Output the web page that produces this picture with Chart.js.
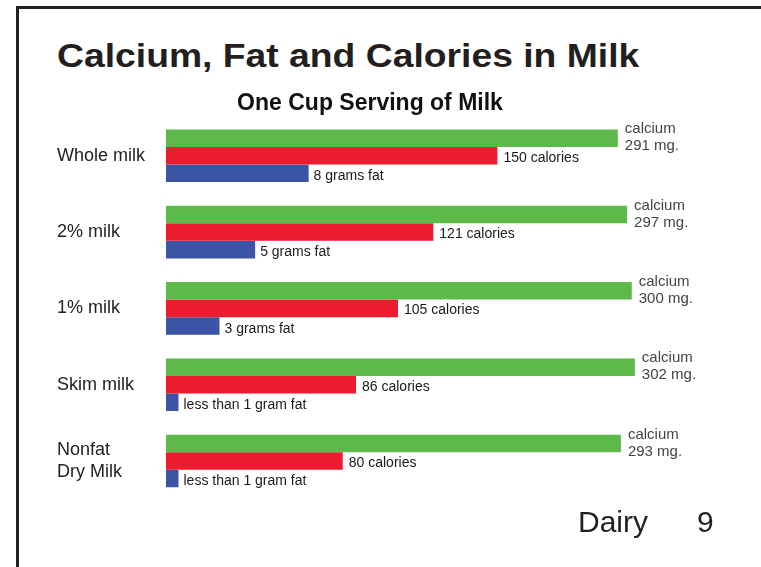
<!DOCTYPE html>
<html>
<head>
<meta charset="utf-8">
<script src="https://cdn.jsdelivr.net/npm/chart.js@4.4.1/dist/chart.umd.min.js"></script>
<style>
    html, body { margin: 0; padding: 0; background: #fff; }
    body { width: 761px; height: 567px; position: relative; overflow: hidden; font-family: "Liberation Sans", Arial, sans-serif; }
    .frame-top { position: absolute; left: 16px; top: 6px; width: 745px; height: 3px; background: #222; }
    .frame-left { position: absolute; left: 16px; top: 6px; width: 3px; height: 561px; background: #222; }
    .slide-title { position: absolute; left: 57px; top: 39px; font-size: 33px; line-height: 1; font-weight: bold; color: #231f20; white-space: nowrap; transform: scaleX(1.13); transform-origin: left top; }
    .footer { position: absolute; top: 507px; font-size: 30px; line-height: 1; color: #231f20; }
    #chart-box { position: absolute; left: 20px; top: 60px; width: 700px; height: 453px; }
</style>
</head>
<body>
<div class="frame-top"></div>
<div class="frame-left"></div>
<div class="slide-title">Calcium, Fat and Calories in Milk</div>
<div id="chart-box"><canvas id="milkChart"></canvas></div>
<div class="footer" style="left:578px">Dairy</div>
<div class="footer" style="left:697px">9</div>

<script>
// --- DADOS ---
const categories = ['Whole milk', '2% milk', '1% milk', 'Skim milk', ['Nonfat', 'Dry Milk']];
const calcium = [291, 297, 300, 302, 293];          // mg
const calories = [150, 121, 105, 86, 80];
const fat = [8, 5, 3, 0.7, 0.7];                    // gramas ("less than 1" ~ 0.7)
const fatLabels = ['8 grams fat', '5 grams fat', '3 grams fat', 'less than 1 gram fat', 'less than 1 gram fat'];

const labelFont = '"Liberation Sans", Arial, sans-serif';

// escreve os textos no fim de cada barra
const barLabels = {
    id: 'barLabels',
    afterDatasetsDraw(chart) {
        const ctx = chart.ctx;
        ctx.save();
        ctx.textAlign = 'left';
        ctx.textBaseline = 'middle';

        chart.getDatasetMeta(0).data.forEach((bar, i) => {
            ctx.font = '15px ' + labelFont;
            ctx.fillStyle = '#444';
            ctx.fillText('calcium', bar.x + 7, bar.y - 9);
            ctx.fillText(calcium[i] + ' mg.', bar.x + 7, bar.y + 8);
        });

        chart.getDatasetMeta(1).data.forEach((bar, i) => {
            ctx.font = '14px ' + labelFont;
            ctx.fillStyle = '#1a1a1a';
            ctx.fillText(calories[i] + ' calories', bar.x + 6, bar.y + 2);
        });

        chart.getDatasetMeta(2).data.forEach((bar, i) => {
            ctx.font = '14px ' + labelFont;
            ctx.fillStyle = '#1a1a1a';
            ctx.fillText(fatLabels[i], bar.x + 5, bar.y + 3);
        });
        ctx.restore();
    }
};

new Chart(document.getElementById('milkChart'), {
    type: 'bar',
    data: {
        labels: categories,
        datasets: [
            { label: 'Calcium', data: calcium, xAxisID: 'xCal', backgroundColor: '#5cb94a' },
            { label: 'Calories', data: calories, xAxisID: 'xKcal', backgroundColor: '#ed1c2f' },
            { label: 'Fat', data: fat, xAxisID: 'xFat', backgroundColor: '#3c54a5' }
        ]
    },
    options: {
        indexAxis: 'y',
        responsive: true,
        maintainAspectRatio: false,
        animation: false,
        categoryPercentage: 0.69,
        barPercentage: 1.0,
        layout: { padding: { left: 37, right: 37, top: 0, bottom: 5 } },
        plugins: {
            legend: { display: false },
            tooltip: { enabled: false },
            title: {
                display: true,
                text: 'One Cup Serving of Milk',
                color: '#111',
                font: { family: labelFont, size: 23, weight: 'bold' },
                padding: { top: 30, bottom: 0 }
            }
        },
        scales: {
            y: {
                position: 'left',
                grid: { display: false },
                border: { display: false },
                ticks: {
                    crossAlign: 'far',
                    color: '#222',
                    font: { family: labelFont, size: 18 }
                },
                afterFit: (scale) => { scale.width = 109; }
            },
            xCal: { type: 'linear', display: false, min: 0, max: 333 },
            xKcal: { type: 'linear', display: false, min: 0, max: 234 },
            xFat: { type: 'linear', display: false, min: 0, max: 29 }
        }
    },
    plugins: [barLabels]
});
</script>
</body>
</html>
